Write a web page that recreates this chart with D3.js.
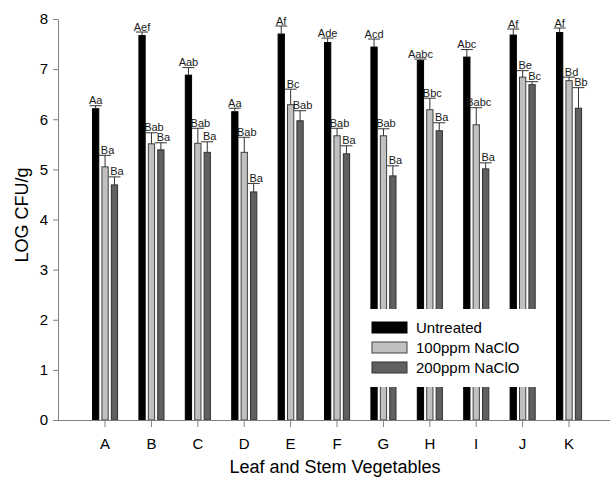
<!DOCTYPE html>
<html>
<head>
<meta charset="utf-8">
<script src="https://cdn.jsdelivr.net/npm/d3@7"></script>
<style>
  body { margin: 0; background: #fff; }
  svg { display: block; font-family: Arial, "Liberation Sans", sans-serif; }
  .axis path, .axis line { stroke: #808080; }
  .axis text { fill: #000; }
</style>
</head>
<body>
<svg id="chart" width="610" height="484"></svg>
<script>
var categories = ["A", "B", "C", "D", "E", "F", "G", "H", "I", "J", "K"];
var series = ["Untreated", "100ppm NaClO", "200ppm NaClO"];

// mean LOG CFU/g
var untreated = [6.21, 7.67, 6.88, 6.15, 7.70, 7.53, 7.44, 7.17, 7.24, 7.68, 7.73];
var ppm100    = [5.05, 5.51, 5.52, 5.34, 6.29, 5.67, 5.67, 6.19, 5.89, 6.84, 6.77];
var ppm200    = [4.69, 5.39, 5.34, 4.55, 5.97, 5.31, 4.87, 5.77, 5.01, 6.69, 6.22];

// upper error (SD)
var untreatedErr = [0.06, 0.07, 0.15, 0.07, 0.16, 0.09, 0.16, 0.03, 0.15, 0.12, 0.09];
var ppm100Err    = [0.23, 0.22, 0.30, 0.30, 0.31, 0.15, 0.14, 0.23, 0.34, 0.13, 0.07];
var ppm200Err    = [0.16, 0.14, 0.21, 0.17, 0.20, 0.16, 0.20, 0.16, 0.12, 0.06, 0.41];

// significance letters
var untreatedLbl = ["Aa", "Aef", "Aab", "Aa", "Af", "Ade", "Acd", "Aabc", "Abc", "Af", "Af"];
var ppm100Lbl    = ["Ba", "Bab", "Bab", "Bab", "Bc", "Bab", "Bab", "Bbc", "Babc", "Be", "Bd"];
var ppm200Lbl    = ["Ba", "Ba", "Ba", "Ba", "Bab", "Ba", "Ba", "Ba", "Ba", "Bc", "Bb"];

var yTicks = [0, 1, 2, 3, 4, 5, 6, 7, 8];

var fills = ["#000000", "#c0c0c0", "#606060"];
var strokes = ["#000000", "#404040", "#303030"];

var svg = d3.select("#chart");

var x = d3.scaleBand().domain(categories).range([81.8, 592.2]);
var xSub = d3.scaleBand().domain(series).range([-12.5, 12.6]).paddingInner(1 / 3);
var y = d3.scaleLinear().domain([0, 8]).range([420, 19]);

var rows = [];
var vals = [untreated, ppm100, ppm200],
    errs = [untreatedErr, ppm100Err, ppm200Err],
    lbls = [untreatedLbl, ppm100Lbl, ppm200Lbl];
categories.forEach(function(c, i) {
    series.forEach(function(s, j) {
        rows.push({cat: c, s: s, j: j, v: vals[j][i], e: errs[j][i], lbl: lbls[j][i]});
    });
});

function cx(d) { return x(d.cat) + x.bandwidth() / 2 + xSub(d.s) + xSub.bandwidth() / 2; }

// bars
svg.append("g").selectAll("rect")
    .data(rows)
    .enter().append("rect")
    .attr("x", function(d) { return x(d.cat) + x.bandwidth() / 2 + xSub(d.s); })
    .attr("y", function(d) { return y(d.v); })
    .attr("width", xSub.bandwidth())
    .attr("height", function(d) { return y(0) - y(d.v); })
    .attr("fill", function(d) { return fills[d.j]; })
    .attr("stroke", function(d) { return strokes[d.j]; })
    .attr("stroke-width", 1);

// error bars (upper only)
var eb = svg.append("g").attr("stroke", "#333").attr("stroke-width", 1)
    .selectAll("g").data(rows).enter().append("g");
eb.append("line")
    .attr("x1", cx).attr("x2", cx)
    .attr("y1", function(d) { return y(d.v); })
    .attr("y2", function(d) { return y(d.v + d.e); });
eb.append("line")
    .attr("x1", function(d) { return cx(d) - 6; })
    .attr("x2", function(d) { return cx(d) + 6; })
    .attr("y1", function(d) { return y(d.v + d.e); })
    .attr("y2", function(d) { return y(d.v + d.e); });

// letters
svg.append("g").selectAll("text")
    .data(rows)
    .enter().append("text")
    .attr("x", function(d) { return cx(d) + (d.j ? 2.5 : 0); })
    .attr("y", function(d) { return y(d.v + d.e) - 1.5; })
    .attr("text-anchor", "middle")
    .attr("font-size", "11px")
    .attr("fill", "#1a1a1a")
    .text(function(d) { return d.lbl; });

// legend (white box hides bars behind it)
var legend = svg.append("g");
legend.append("rect")
    .attr("x", 366).attr("y", 309).attr("width", 178).attr("height", 78)
    .attr("fill", "#fff");
var li = legend.selectAll("g.item").data(series).enter().append("g")
    .attr("class", "item")
    .attr("transform", function(d, i) { return "translate(372," + (322 + i * 20) + ")"; });
li.append("rect")
    .attr("width", 35).attr("height", 11)
    .attr("fill", function(d, i) { return fills[i]; })
    .attr("stroke", function(d, i) { return strokes[i]; });
li.append("text")
    .attr("x", 44).attr("y", 11)
    .attr("font-size", "15px")
    .attr("fill", "#000")
    .text(function(d) { return d; });

// axes
var yAxis = svg.append("g").attr("class", "axis")
    .attr("transform", "translate(58,0)")
    .call(d3.axisLeft(y).tickValues(yTicks).tickSize(5).tickSizeOuter(0).tickPadding(5));
yAxis.selectAll("text").attr("font-size", "15px").attr("font-family", "Arial, 'Liberation Sans', sans-serif");

var xAxis = svg.append("g").attr("class", "axis")
    .attr("transform", "translate(0,420)")
    .call(d3.axisBottom(x).tickSize(7).tickSizeOuter(0).tickPadding(11));
xAxis.select(".domain").remove();
xAxis.selectAll("text").attr("font-size", "15px").attr("font-family", "Arial, 'Liberation Sans', sans-serif");
svg.append("line")
    .attr("x1", 58).attr("x2", 610)
    .attr("y1", 420.5).attr("y2", 420.5)
    .attr("stroke", "#808080");

// titles
svg.append("text")
    .attr("x", 335).attr("y", 473)
    .attr("text-anchor", "middle")
    .attr("font-size", "18px")
    .text("Leaf and Stem Vegetables");
svg.append("text")
    .attr("transform", "translate(28,215) rotate(-90)")
    .attr("text-anchor", "middle")
    .attr("font-size", "18px")
    .text("LOG CFU/g");
</script>
</body>
</html>
